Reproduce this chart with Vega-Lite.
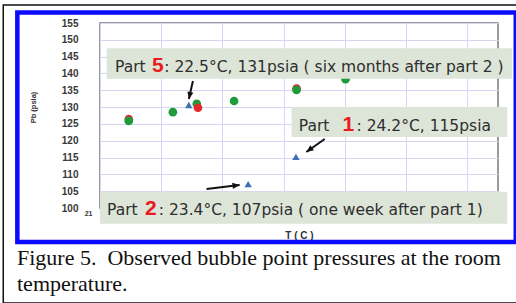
{
  "$schema": "https://vega.github.io/schema/vega-lite/v6.json",
  "width": 398,
  "height": 185,
  "autosize": "none",
  "padding": {"left": 100, "top": 23, "right": 18, "bottom": 95},
  "background": "white",
  "config": {
    "view": {"stroke": "#7a7a7a", "strokeWidth": 1.5},
    "axis": {"gridColor": "#d6d6f2", "gridWidth": 1, "ticks": false, "domain": false}
  },
  "title": {
    "text": ["Figure 5.\u00a0 Observed bubble point pressures at the room", "temperature."],
    "orient": "bottom",
    "anchor": "start",
    "frame": "group",
    "font": "Liberation Serif",
    "fontSize": 22,
    "fontWeight": "normal",
    "color": "#111111",
    "lineHeight": 26,
    "dx": -83,
    "offset": -56
  },
  "datasets": {
    "circles": [
      {"series": "Series 2", "T": 21.47, "P": 126.4},
      {"series": "Series 2", "T": 24.21, "P": 135.5},
      {"series": "Series 1", "T": 21.47, "P": 125.9},
      {"series": "Series 1", "T": 22.19, "P": 128.5},
      {"series": "Series 1", "T": 22.58, "P": 131.0},
      {"series": "Series 1", "T": 23.19, "P": 131.8},
      {"series": "Series 1", "T": 24.21, "P": 135.1},
      {"series": "Series 1", "T": 25.01, "P": 138.3},
      {"series": "Series 2", "T": 22.6, "P": 129.8}
    ],
    "parts": [
      {"part": "Part 5", "T": 22.45, "P": 130.6},
      {"part": "Part 1", "T": 24.2, "P": 115.2},
      {"part": "Part 2", "T": 23.42, "P": 107.1}
    ],
    "frames": [
      {"frame": "figure", "T": 19.42, "T2": 28.6, "P": 160.35, "P2": 71.77},
      {"frame": "chart", "T": 19.65, "T2": 27.79, "P": 158.1, "P2": 89.9}
    ],
    "boxes": [
      {"part": "Part 5", "T": 21.11, "T2": 27.73, "P": 147.5, "P2": 138.4},
      {"part": "Part 1", "T": 24.13, "T2": 27.65, "P": 130.0, "P2": 121.1},
      {"part": "Part 2", "T": 21.0, "T2": 27.65, "P": 104.8, "P2": 95.3}
    ],
    "labels": [
      {"part": "Part 5", "T": 21.245, "P": 140.43, "text": "Part"},
      {"part": "Part 5", "T": 22.05, "P": 140.43, "text": ": 22.5°C, 131psia ( six months after part 2 )"},
      {"part": "Part 1", "T": 24.246, "P": 122.9, "text": "Part"},
      {"part": "Part 1", "T": 25.19, "P": 122.9, "text": ": 24.2°C, 115psia"},
      {"part": "Part 2", "T": 21.114, "P": 97.93, "text": "Part"},
      {"part": "Part 2", "T": 21.96, "P": 97.93, "text": ": 23.4°C, 107psia ( one week after part 1)"}
    ],
    "numbers": [
      {"part": "Part 5", "T": 21.848, "P": 140.43, "text": "5"},
      {"part": "Part 1", "T": 24.96, "P": 122.9, "text": "1"},
      {"part": "Part 2", "T": 21.734, "P": 97.93, "text": "2"}
    ],
    "arrows": [
      {"part": "Part 5", "T": 22.452, "P": 132.41, "T2": 22.517, "P2": 137.76},
      {"part": "Part 1", "T": 24.37, "P": 116.65, "T2": 24.67, "P2": 120.52},
      {"part": "Part 2", "T": 23.28, "P": 106.84, "T2": 22.74, "P2": 105.65}
    ]
  },
  "encoding": {
    "x": {
      "field": "T", "type": "quantitative", "title": "T ( C )",
      "scale": {"domain": [21, 27.5], "nice": false, "zero": false},
      "axis": {
        "values": [21, 22, 23, 24, 25, 26, 27],
        "grid": true,
        "labelOverlap": false,
        "labelExpr": "datum.value == 21 ? '21' : ''",
        "labelAlign": "right", "labelOffset": -8, "labelBaseline": "top", "labelPadding": 1,
        "labelFont": "Liberation Sans", "labelFontWeight": "bold", "labelFontSize": 7, "labelColor": "#333333",
        "titleFont": "Liberation Sans", "titleFontWeight": "bold", "titleFontSize": 10, "titleColor": "#333333",
        "titleY": 22, "titleBaseline": "top"
      }
    },
    "y": {
      "field": "P", "type": "quantitative", "title": "Pb (psia)",
      "scale": {"domain": [100, 155], "nice": false, "zero": false},
      "axis": {
        "values": [100, 105, 110, 115, 120, 125, 130, 135, 140, 145, 150, 155],
        "grid": true,
        "labelOverlap": false,
        "labelBound": false,
        "labelFont": "Liberation Sans", "labelFontWeight": "bold", "labelFontSize": 10, "labelColor": "#383838",
        "labelPadding": 22,
        "titleFont": "Liberation Sans", "titleFontWeight": "bold", "titleFontSize": 7.5, "titleColor": "#333333",
        "titleX": -63, "titleY": 84
      }
    }
  },
  "layer": [
    {
      "data": {"name": "circles"},
      "mark": {"type": "circle", "size": 75, "opacity": 1},
      "encoding": {
        "color": {"field": "series", "type": "nominal", "scale": {"domain": ["Series 1", "Series 2"], "range": ["#1e9c3c", "#e02a2a"]}, "legend": null}
      }
    },
    {
      "data": {"name": "parts"},
      "mark": {"type": "point", "shape": "triangle-up", "size": 55, "filled": true, "color": "#3f6fb6", "opacity": 1}
    },
    {
      "data": {"name": "frames"},
      "transform": [{"filter": "datum.frame == 'chart'"}],
      "mark": {"type": "rect", "fillOpacity": 0, "stroke": "#0a0aff", "strokeWidth": 4.5},
      "encoding": {
        "x2": {"field": "T2"},
        "y2": {"field": "P2"}
      }
    },
    {
      "data": {"name": "frames"},
      "transform": [{"filter": "datum.frame == 'figure'"}],
      "mark": {"type": "rect", "fillOpacity": 0, "stroke": "#111111", "strokeWidth": 1.5},
      "encoding": {
        "x2": {"field": "T2"},
        "y2": {"field": "P2"}
      }
    },
    {
      "data": {"name": "boxes"},
      "mark": {"type": "rect", "fill": "#dde5d9"},
      "encoding": {
        "x2": {"field": "T2"},
        "y2": {"field": "P2"}
      }
    },
    {
      "data": {"name": "labels"},
      "mark": {"type": "text", "align": "left", "baseline": "alphabetic", "font": "DejaVu Sans", "fontSize": 15.5, "color": "#2e2e2e"},
      "encoding": {
        "text": {"field": "text"}
      }
    },
    {
      "data": {"name": "numbers"},
      "mark": {"type": "text", "align": "left", "baseline": "alphabetic", "font": "Liberation Sans", "fontWeight": "bold", "fontSize": 21, "color": "#ea1a1f"},
      "encoding": {
        "text": {"field": "text"}
      }
    },
    {
      "data": {"name": "arrows"},
      "mark": {"type": "rule", "color": "#111111", "strokeWidth": 2},
      "encoding": {
        "x2": {"field": "T2"},
        "y2": {"field": "P2"}
      }
    },
    {
      "data": {"name": "arrows"},
      "transform": [{"filter": "datum.part == 'Part 5'"}],
      "mark": {"type": "point", "shape": "M0,0L-0.65,1.5L0.65,1.5Z", "size": 90, "filled": true, "color": "#111111", "opacity": 1, "angle": 192}
    },
    {
      "data": {"name": "arrows"},
      "transform": [{"filter": "datum.part == 'Part 1'"}],
      "mark": {"type": "point", "shape": "M0,0L-0.65,1.5L0.65,1.5Z", "size": 90, "filled": true, "color": "#111111", "opacity": 1, "angle": 234}
    },
    {
      "data": {"name": "arrows"},
      "transform": [{"filter": "datum.part == 'Part 2'"}],
      "mark": {"type": "point", "shape": "M0,0L-0.65,1.5L0.65,1.5Z", "size": 90, "filled": true, "color": "#111111", "opacity": 1, "angle": 83}
    }
  ]
}
